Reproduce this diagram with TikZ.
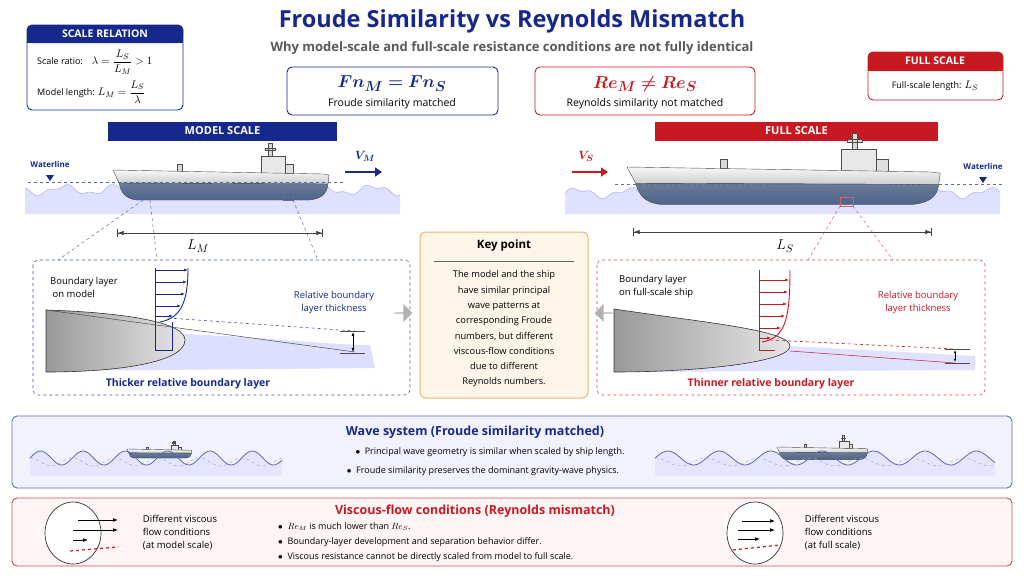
\documentclass[tikz,border=0pt]{standalone}
\usepackage{amsmath,amssymb,bm}
\usepackage{fontspec}
\setmainfont{Open Sans}
\usetikzlibrary{arrows.meta,shapes.arrows,shapes.geometric}
\definecolor{navy}{RGB}{22,40,140}
\definecolor{dred}{RGB}{200,25,35}
\definecolor{hullb}{RGB}{70,90,125}
\definecolor{keyb}{RGB}{232,180,110}
\definecolor{keyf}{RGB}{253,246,232}
\tikzset{
 hdr/.style={fill=#1,text=white,font=\bfseries\fontsize{11}{13}\selectfont,inner sep=0pt,minimum height=19pt},
 rbox/.style={draw=#1,line width=0.9pt,rounded corners=5pt,fill=white},
 lbl/.style={font=\fontsize{9.5}{13}\selectfont,align=left,inner sep=0pt},
 dim/.style={{Bar[width=8pt]Latex[length=6pt]}-{Latex[length=6pt]Bar[width=8pt]},line width=0.7pt,black!75},
 pics/ship/.style={code={
  \fill[gray!18,draw=black!70,line width=0.4pt] (148,-14) rectangle (172,3);
  \fill[gray!25,draw=black!70,line width=0.4pt] (172,-6) rectangle (180,3);
  \fill[gray!30,draw=black!70,line width=0.4pt] (155,-27) rectangle (159,-14) (152,-22) rectangle (162,-20);
  \fill[gray!30,draw=black!70,line width=0.4pt] (64,-6) rectangle (69,1);
  \shade[top color=gray!5,bottom color=gray!40,draw=black!70,line width=0.4pt] (0,0) -- (210,4) -- (216,5) -- (215,14) -- (6,13) -- cycle;
  \shade[top color=hullb!80,bottom color=hullb!110!black,draw=black!70,line width=0.4pt] (6,13) -- (215,14) .. controls (214,24) and (208,29) .. (196,30) -- (24,30) .. controls (12,29) and (8,22) .. (6,13) -- cycle;
 }},
}
\begin{document}
\begin{tikzpicture}[x=1pt,y=-1pt]
\useasboundingbox (0,0) rectangle (1024,576);
\fill[white] (0,0) rectangle (1024,576);
% titles
\node[text=navy,font=\bfseries\fontsize{23.5}{28}\selectfont] (title) at (512,21) {Froude Similarity vs Reynolds Mismatch};
\node[text=black!65,font=\bfseries\fontsize{13}{15}\selectfont] (sub) at (512,48) {Why model-scale and full-scale resistance conditions are not fully identical};
% scale relation
\draw[rbox=navy] (27,25) rectangle (183,110);
\fill[navy,rounded corners=5pt] (27,25) rectangle (183,43);
\fill[navy] (27,35) rectangle (183,43);
\node[text=white,font=\bfseries\fontsize{10.5}{12}\selectfont] (srh) at (105,34) {SCALE RELATION};
\node[lbl,anchor=west,font=\fontsize{9}{12}\selectfont] (sr1) at (37,62) {Scale ratio:\quad {\fontsize{11}{12}\selectfont$\lambda=\dfrac{L_S}{L_M}>1$}};
\node[lbl,anchor=west,font=\fontsize{9}{12}\selectfont] (sr2) at (37,92) {Model length: {\fontsize{11}{12}\selectfont$L_M=\dfrac{L_S}{\lambda}$}};
% Fn and Re boxes
\draw[rbox=navy] (287,67) rectangle (498,115);
\node[text=navy,font=\fontsize{19}{21}\selectfont] (fn) at (392,84) {$\bm{Fn_M = Fn_S}$};
\node[font=\fontsize{10.5}{12}\selectfont] (fnt) at (392,104) {Froude similarity matched};
\draw[rbox=dred] (535,67) rectangle (755,115);
\node[text=dred,font=\fontsize{19}{21}\selectfont] (re) at (645,84) {$\bm{Re_M \neq Re_S}$};
\node[font=\fontsize{10.5}{12}\selectfont] (ret) at (645,104) {Reynolds similarity not matched};
% full scale box
\draw[rbox=dred] (868,52) rectangle (1003,100);
\fill[dred,rounded corners=5pt] (868,52) rectangle (1003,71);
\fill[dred] (868,62) rectangle (1003,71);
\node[text=white,font=\bfseries\fontsize{10.5}{12}\selectfont] (fsh) at (935,61) {FULL SCALE};
\node[lbl,font=\fontsize{9}{12}\selectfont] (fsl) at (935,86) {Full-scale length: {\fontsize{11}{12}\selectfont$L_S$}};
% scale bars
\node[hdr=navy,minimum width=229pt] (msb) at (222.5,131) {MODEL SCALE};
\node[hdr=dred,minimum width=283pt] (fsb) at (796.5,131) {FULL SCALE};
% model scene
\fill[blue!12] plot[domain=25:400,samples=120,smooth] (\x,{190-4*sin(\x*7)-2*sin(\x*17)}) -- (400,214) -- (25,214) -- cycle;
\draw[blue!30,line width=0.6pt] plot[domain=25:400,samples=120,smooth] (\x,{190-4*sin(\x*7)-2*sin(\x*17)});
\pic at (113,170) {ship};
\draw[navy!70,dashed,line width=0.5pt] (28,182) -- (345,182);
\node[text=navy,font=\bfseries\fontsize{8}{9}\selectfont] (wl1) at (50,164) {Waterline};
\fill[navy] (46,175) -- (54,175) -- (50,181) -- cycle;
\coordinate (vm1) at (345,172); \coordinate (vm2) at (382,172);
\draw[navy,line width=2pt,-{Triangle[length=7pt,width=9pt]}] (vm1) -- (vm2);
\node[text=navy,font=\fontsize{13}{14}\selectfont] (vm) at (365,156) {$\bm{V_M}$};
\draw[navy!70,line width=0.5pt] (283,191) rectangle (293,200);
\draw[navy!70,dashed,line width=0.5pt] (143,200) -- (58,260) (150,200) -- (157,260) (293,200) -- (318,260);
\coordinate (lm1) at (117,233); \coordinate (lm2) at (323,233);
\draw[dim] (lm1) -- (lm2);
\node[font=\fontsize{15}{16}\selectfont] (lm) at (198,246) {$L_M$};
% full scene
\fill[blue!12] plot[domain=565:1000,samples=140,smooth] (\x,{193-4*sin((\x-565)*7)-2*sin((\x-565)*17)}) -- (1000,214) -- (565,214) -- cycle;
\draw[blue!30,line width=0.6pt] plot[domain=565:1000,samples=140,smooth] (\x,{193-4*sin((\x-565)*7)-2*sin((\x-565)*17)});
\pic[xscale=1.45,yscale=1.25] at (627,167) {ship};
\draw[navy!70,dashed,line width=0.5pt] (615,184) -- (1005,184);
\node[text=navy,font=\bfseries\fontsize{8}{9}\selectfont] (wl2) at (983,166) {Waterline};
\fill[navy] (979,177) -- (987,177) -- (983,183) -- cycle;
\coordinate (vs1) at (572,172); \coordinate (vs2) at (608,172);
\draw[dred,line width=2pt,-{Triangle[length=7pt,width=9pt]}] (vs1) -- (vs2);
\node[text=dred,font=\fontsize{13}{14}\selectfont] (vs) at (586,156) {$\bm{V_S}$};
\draw[dred!70,line width=0.5pt] (840,197) rectangle (853,206);
\draw[dred!70,dashed,line width=0.5pt] (840,206) -- (808,260) (853,206) -- (893,260);
\coordinate (ls1) at (633,232); \coordinate (ls2) at (932,232);
\draw[dim] (ls1) -- (ls2);
\node[font=\fontsize{15}{16}\selectfont] (ls) at (785,246) {$L_S$};
% left detail
\draw[navy!80,dashed,rounded corners=5pt,line width=0.6pt] (33,260) rectangle (410,395);
\fill[blue!13] (180,334) .. controls (250,336) and (330,345) .. (370,345) -- (375,368) -- (46,371) -- cycle;
\shade[left color=gray!80,right color=gray!20,draw=black!80,line width=0.6pt] (46,310) .. controls (110,312) and (185,320) .. (185,340) .. controls (185,362) and (120,372) .. (46,372) -- cycle;
\draw[navy,line width=0.6pt] (155,268) -- (155,350) -- (172,350) -- (172,322);
\foreach \yy/\ll in {270/33,282/32,294/30,306/26,316/18}{\draw[navy,line width=0.6pt,-{Latex[length=4pt]}] (155,\yy) -- ++(\ll,0);}
\draw[navy,line width=0.9pt] (160,322) .. controls (182,318) and (188,300) .. (188,268);
\draw[navy!80,dashed,line width=0.6pt] (168,318) -- (355,331);
\draw[black!70,line width=0.5pt] (46,310) -- (355,352);
\draw[black!70,line width=0.5pt] (340,331) -- (365,331) (340,353) -- (365,353);
\draw[black,line width=0.6pt,{Latex[length=4pt]}-{Latex[length=4pt]}] (353,332) -- (353,352);
\node[lbl,anchor=west] (bl1) at (50,287) {Boundary layer\\\ on model};
\node[lbl,align=center,text=navy] (rb1) at (334,303) {Relative boundary\\layer thickness};
\node[text=navy,font=\bfseries\fontsize{10.5}{12}\selectfont] (tk) at (188,384) {Thicker relative boundary layer};
% right detail
\draw[dred!80,dashed,rounded corners=5pt,line width=0.6pt] (597,260) rectangle (985,395);
\fill[blue!12] (790,346) -- (975,356) -- (975,370) -- (620,372) -- cycle;
\shade[left color=gray!80,right color=gray!20,draw=black!80,line width=0.6pt] (614,309) .. controls (700,322) and (790,330) .. (790,346) .. controls (790,362) and (700,372) .. (614,372) -- cycle;
\draw[dred,line width=0.6pt] (759,270) -- (759,350) -- (775,350);
\foreach \yy/\ll in {280/30,292/29,304/28,316/26,328/22,338/12}{\draw[dred,line width=0.6pt,-{Latex[length=4pt]}] (759,\yy) -- ++(\ll,0);}
\draw[dred,line width=0.9pt] (762,342) .. controls (785,338) and (790,320) .. (790,270);
\draw[dred,dashed,line width=0.6pt] (770,340) -- (955,349);
\draw[dred,line width=0.5pt] (790,351) -- (955,363);
\draw[black!70,line width=0.5pt] (945,349) -- (970,349) (945,363) -- (970,363);
\draw[black,line width=0.6pt,{Latex[length=3pt]}-{Latex[length=3pt]}] (955,350) -- (955,362);
\node[lbl,anchor=west] (bl2) at (619,287) {Boundary layer\\on full-scale ship};
\node[lbl,align=center,text=dred] (rb2) at (918,303) {Relative boundary\\layer thickness};
\node[text=dred,font=\bfseries\fontsize{10.5}{12}\selectfont] (tn) at (771,384) {Thinner relative boundary layer};
% key point
\draw[draw=keyb,fill=keyf,line width=1pt,rounded corners=6pt] (420,232) rectangle (588,398);
\node[font=\bfseries\fontsize{11.5}{13}\selectfont] (kp) at (504,246) {Key point};
\draw[black!60,line width=0.6pt] (434,261) -- (574,261);
\node[align=center,font=\fontsize{9.3}{15.3}\selectfont] (kt) at (504,329) {The model and the ship\\have similar principal\\wave patterns at\\corresponding Froude\\numbers, but different\\viscous-flow conditions\\due to different\\Reynolds numbers.};
\node[single arrow,fill=gray!60,minimum height=18pt,minimum width=18pt,single arrow head extend=3pt,inner sep=0pt] (ga1) at (403,313) {};
\node[single arrow,fill=gray!60,minimum height=18pt,minimum width=18pt,single arrow head extend=3pt,inner sep=0pt,shape border rotate=180] (ga2) at (604,313) {};
% wave system panel
\draw[draw=navy!70,fill=blue!5,line width=0.9pt,rounded corners=5pt] (12,416) rectangle (1012,488);
\node[text=navy,font=\bfseries\fontsize{12.5}{14}\selectfont] (ws) at (475,432) {Wave system (Froude similarity matched)};
\node[lbl,font=\fontsize{9}{12}\selectfont] (wb1) at (490,452) {$\bullet$\ \ Principal wave geometry is similar when scaled by ship length.};
\node[lbl,font=\fontsize{9}{12}\selectfont] (wb2) at (483,471) {$\bullet$\ \ Froude similarity preserves the dominant gravity-wave physics.};
\fill[blue!10] plot[domain=30:282,samples=120,smooth] (\x,{458-7*sin((\x-30)*8.5)}) -- (282,476) -- (30,476) -- cycle;
\pic[scale=0.3] at (127,449) {ship};
\draw[navy!70,line width=0.8pt] plot[domain=30:282,samples=120,smooth] (\x,{458-7*sin((\x-30)*8.5)});
\draw[navy!40,dashed,line width=0.5pt] plot[domain=30:282,samples=120,smooth] (\x,{462-4*sin((\x-30)*8.5+90)});
\fill[blue!10] plot[domain=655:995,samples=140,smooth] (\x,{458-7*sin((\x-655)*7)}) -- (995,476) -- (655,476) -- cycle;
\pic[scale=0.42] at (777,447) {ship};
\draw[navy!70,line width=0.8pt] plot[domain=655:995,samples=140,smooth] (\x,{458-7*sin((\x-655)*7)});
\draw[navy!40,dashed,line width=0.5pt] plot[domain=655:995,samples=140,smooth] (\x,{462-4*sin((\x-655)*7+90)});
% viscous panel
\draw[draw=dred!80,fill=red!4,line width=0.9pt,rounded corners=5pt] (12,498) rectangle (1012,566);
\node[text=dred,font=\bfseries\fontsize{12.5}{14}\selectfont] (vf) at (475,511) {Viscous-flow conditions (Reynolds mismatch)};
\node[lbl,anchor=west,font=\fontsize{9}{12}\selectfont] (vb1) at (278,527) {$\bullet$\ \ $Re_M$ is much lower than $Re_S$.};
\node[lbl,anchor=west,font=\fontsize{9}{12}\selectfont] (vb2) at (278,542) {$\bullet$\ \ Boundary-layer development and separation behavior differ.};
\node[lbl,anchor=west,font=\fontsize{9}{12}\selectfont] (vb3) at (278,557) {$\bullet$\ \ Viscous resistance cannot be directly scaled from model to full scale.};
\node[ellipse,draw=black!80,fill=white,line width=0.7pt,minimum width=56pt,minimum height=62pt] (c1) at (73,533) {};
\draw[-{Latex[length=5pt]},line width=0.7pt] (78,520) -- (118,520);
\draw[-{Latex[length=5pt]},line width=0.7pt] (73,530) -- (118,530);
\draw[-{Latex[length=5pt]},line width=0.7pt] (73,540) -- (88,540);
\draw[dred,dashed,line width=1.2pt] (70,551) -- (118,547);
\node[lbl] (c1t) at (180,533) {Different viscous\\flow conditions\\(at model scale)};
\node[ellipse,draw=black!80,fill=white,line width=0.7pt,minimum width=56pt,minimum height=62pt] (c2) at (755,533) {};
\draw[-{Latex[length=5pt]},line width=0.7pt] (742,521) -- (775,521);
\draw[-{Latex[length=5pt]},line width=0.7pt] (738,530) -- (775,530);
\draw[-{Latex[length=5pt]},line width=0.7pt] (738,539) -- (760,539);
\draw[dred,dashed,line width=1.2pt] (733,550) -- (780,545);
\node[lbl] (c2t) at (842,533) {Different viscous\\flow conditions\\(at full scale)};
\end{tikzpicture}
\end{document}
